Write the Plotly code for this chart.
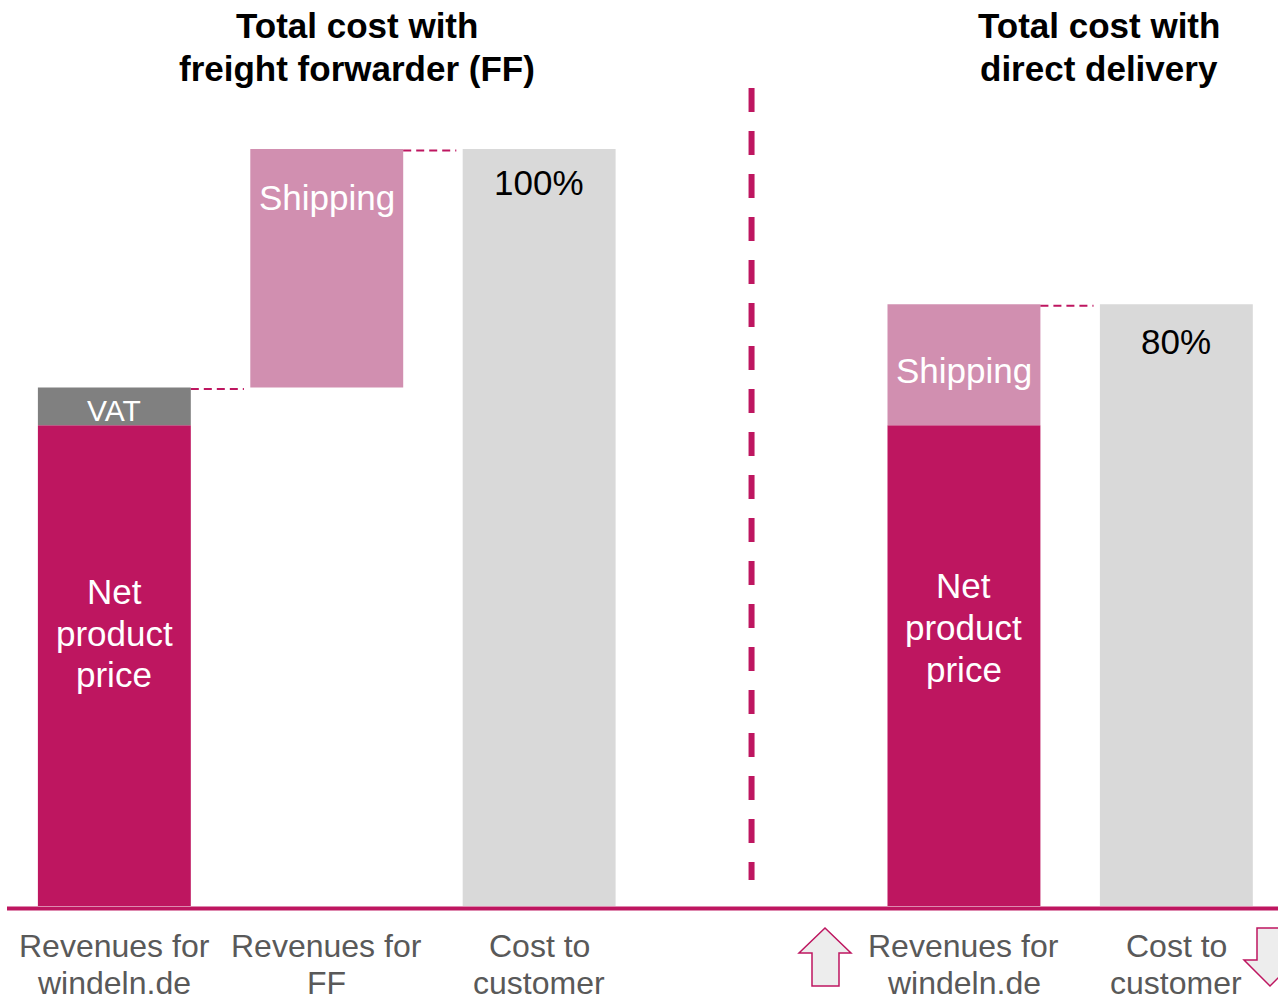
import plotly.graph_objects as go

# ---- data ----
categories = ["Revenues for windeln.de (FF)", "Revenues for FF", "Cost to customer (FF)",
              "divider", "Revenues for windeln.de (DD)", "Cost to customer (DD)"]
cat_line1 = ["Revenues for", "Revenues for", "Cost to", "", "Revenues for", "Cost to"]
cat_line2 = ["windeln.de", "FF", "customer", "", "windeln.de", "customer"]

net_cats = ["Revenues for windeln.de (FF)", "Revenues for windeln.de (DD)"]
net_values = [63.5, 63.5]
vat_cats = ["Revenues for windeln.de (FF)"]
vat_values = [5.0]
ship_cats = ["Revenues for FF", "Revenues for windeln.de (DD)"]
ship_values = [31.5, 16.0]
total_cats = ["Cost to customer (FF)", "Cost to customer (DD)"]
total_values = [100.0, 79.5]
total_labels = ["100%", "80%"]

titles = [["Total cost with", "freight forwarder (FF)"], ["Total cost with", "direct delivery"]]

MAGENTA = "#BE1660"
PINK = "#D18FB0"
VAT_GRAY = "#808080"
LIGHT = "#D9D9D9"
TXT_GRAY = "#595959"
FONT = "Liberation Sans, Arial, sans-serif"

W, H = 1278, 998
PLOT_BOTTOM = 906  # pixel row of value 0
px_per_unit = (906 - 149) / 100.0
ymax = PLOT_BOTTOM / px_per_unit


def py(p):
    return (PLOT_BOTTOM - p) / PLOT_BOTTOM


def pxp(x):
    return x / W


BW = 0.72

fig = go.Figure()
fig.add_trace(go.Bar(x=net_cats, y=net_values, base=[0] * len(net_values),
                     marker=dict(color=MAGENTA, line=dict(width=0)), width=BW, name="Net product price"))
vat_base = [net_values[0]]
fig.add_trace(go.Bar(x=vat_cats, y=vat_values, base=vat_base,
                     marker=dict(color=VAT_GRAY, line=dict(width=0)), width=BW, name="VAT"))
ship_base = [net_values[0] + vat_values[0], net_values[1]]
fig.add_trace(go.Bar(x=ship_cats, y=ship_values, base=ship_base,
                     marker=dict(color=PINK, line=dict(width=0)), width=BW, name="Shipping"))
fig.add_trace(go.Bar(x=total_cats, y=total_values, base=[0, 0],
                     marker=dict(color=LIGHT, line=dict(width=0)), width=BW, name="Total"))

shapes = []
# connectors (dashed) between bars
conn = [
    (0, 1, ship_base[0]),
    (1, 2, total_values[0]),
    (4, 5, total_values[1]),
]
for a, b, yv in conn:
    shapes.append(dict(type="line", xref="x", yref="y",
                       x0=a + BW / 2 + 0.0, x1=b - BW / 2 - 0.03, y0=yv - 0.2, y1=yv - 0.2,
                       line=dict(color=MAGENTA, width=2, dash="8px,5px")))
# vertical divider
shapes.append(dict(type="line", xref="x", yref="paper", x0=3, x1=3,
                   y0=py(88), y1=py(880),
                   line=dict(color=MAGENTA, width=6, dash="24px,19px")))
# baseline
shapes.append(dict(type="line", xref="paper", yref="paper", x0=pxp(7), x1=1.0,
                   y0=py(908.5), y1=py(908.5), line=dict(color=MAGENTA, width=4)))


def poly(points):
    s = "M " + " L ".join(f"{pxp(x):.5f},{py(y):.5f}" for x, y in points) + " Z"
    return s


up_arrow = [(825, 928), (851, 953), (839, 953), (839, 986), (812, 986), (812, 953), (799, 953)]
down_arrow = [(1270, 986), (1296, 960), (1283, 960), (1283, 928), (1257, 928), (1257, 960), (1244, 960)]
for pts in (up_arrow, down_arrow):
    shapes.append(dict(type="path", xref="paper", yref="paper", path=poly(pts),
                       fillcolor="#EDEDED", line=dict(color=MAGENTA, width=1.5)))

ann = []


def txt(x, y, s, size, color, bold=False, xref="x"):
    ann.append(dict(x=x, y=py(y), xref=xref, yref="paper", text=f"<b>{s}</b>" if bold else s,
                    showarrow=False, xanchor="center", yanchor="middle",
                    font=dict(family=FONT, size=size, color=color)))


# category labels
for c, l1, l2 in zip(categories, cat_line1, cat_line2):
    if l1:
        txt(c, 946, l1, 32, TXT_GRAY)
        txt(c, 983, l2, 32, TXT_GRAY)

# titles
txt(pxp(357), 25, titles[0][0], 35, "black", bold=True, xref="paper")
txt(pxp(357), 68, titles[0][1], 35, "black", bold=True, xref="paper")
txt(pxp(1099), 25, titles[1][0], 35, "black", bold=True, xref="paper")
txt(pxp(1099), 68, titles[1][1], 35, "black", bold=True, xref="paper")

# in-bar labels
txt(categories[0], 410, "VAT", 30, "white")
for i, w in enumerate(["Net", "product", "price"]):
    txt(categories[0], 591 + 42 * i, w, 35, "white")
    txt(categories[4], 585 + 42 * i, w, 35, "white")
txt(categories[1], 197, "Shipping", 35, "white")
txt(categories[4], 370, "Shipping", 35, "white")
txt(categories[2], 182, total_labels[0], 35, "black")
txt(categories[5], 341, total_labels[1], 35, "black")

x_left = -114.35 / 212.4
x_right = (W - 114.35) / 212.4

fig.update_layout(
    width=W, height=H,
    margin=dict(l=0, r=0, t=0, b=H - PLOT_BOTTOM),
    plot_bgcolor="white", paper_bgcolor="white",
    barmode="overlay", showlegend=False,
    xaxis=dict(type="category", categoryorder="array", categoryarray=categories,
               range=[x_left, x_right], showticklabels=False, showgrid=False,
               zeroline=False, showline=False, ticks=""),
    yaxis=dict(range=[0, ymax], visible=False, showgrid=False, zeroline=False),
    shapes=shapes, annotations=ann, hovermode=False,
)

fig.write_html(
    "out.html",
    config={"displayModeBar": False},
    post_script="document.body.style.margin='0';document.body.style.overflow='hidden';",
)
